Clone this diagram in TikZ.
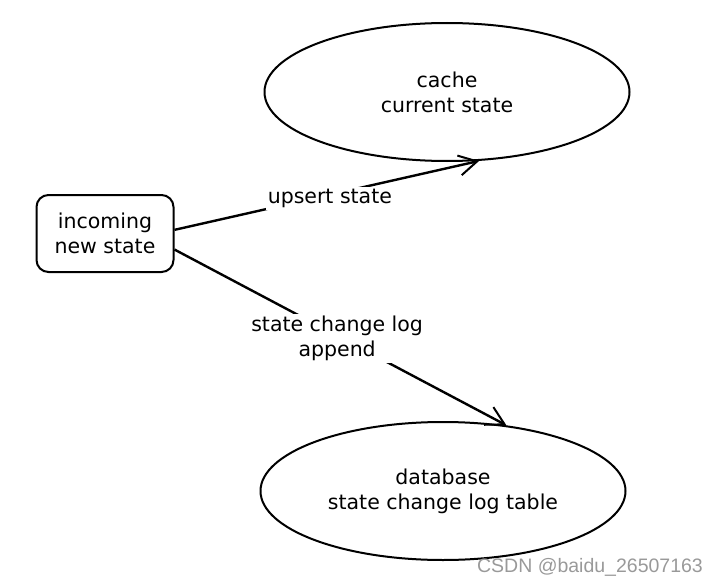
\documentclass[tikz,border=0pt]{standalone}
\usepackage{fontspec}
\setmainfont{DejaVu Sans}
\newfontfamily\wmfont{Liberation Sans}
\usetikzlibrary{shapes.geometric,arrows.meta}
\begin{document}
\begin{tikzpicture}[x=1pt,y=-1pt,
  every node/.style={font=\fontsize{20.5}{25}\selectfont},
  ell/.style={ellipse,draw,line width=2pt,inner sep=0pt,minimum width=365pt,minimum height=138pt,align=center},
  box/.style={rectangle,rounded corners=12pt,draw,line width=2pt,minimum width=137pt,minimum height=77pt,align=center,inner sep=0pt},
  arr/.style={line width=2.4pt,-{Straight Barb[length=18pt,width=20pt,line width=2pt]}},
  lbl/.style={fill=white,align=center,inner sep=2pt}]
\useasboundingbox (0,0) rectangle (718,586);
\node[box] (in) at (105,233.5) {incoming\\new state};
\node[ell] (cache) at (447,92) {cache\\current state};
\node[ell] (db) at (443,491) {database\\state change log table};
\draw[arr] (in.3) -- node[lbl,pos=0.51,yshift=-4pt]{upsert state} (cache.-65);
\draw[arr] (in.-13) -- node[lbl,pos=0.49,yshift=-3pt]{state change log\\append} (db.46);
\node[font=\wmfont\fontsize{19.5}{21}\selectfont, text=gray!80] (wm) at (590,567) {CSDN @baidu\_26507163};
\end{tikzpicture}
\end{document}
